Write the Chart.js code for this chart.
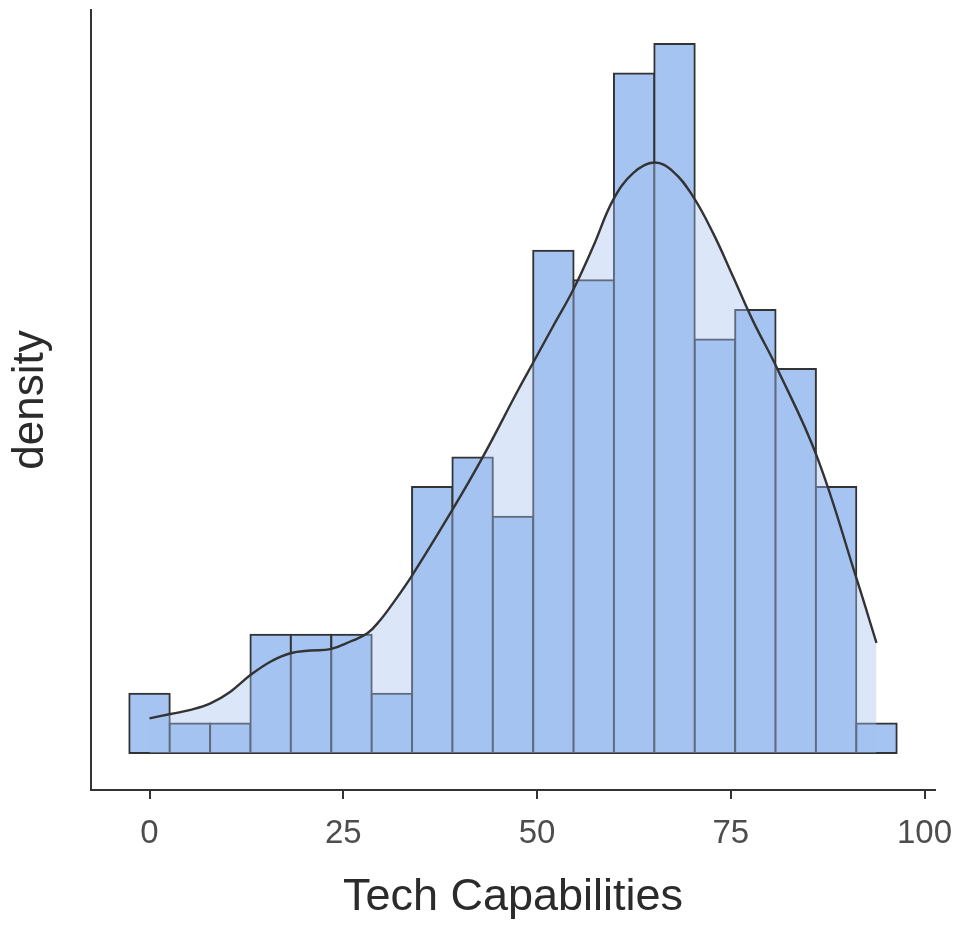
<!DOCTYPE html>
<html>
<head>
<meta charset="utf-8">
<script src="https://cdn.jsdelivr.net/npm/chart.js@4.4.1/dist/chart.umd.min.js"></script>
<style>
  html, body { margin: 0; padding: 0; background: #ffffff; }
  canvas { display: block; }
</style>
</head>
<body>
<canvas id="chart" width="960" height="929"></canvas>
<script>
// Histogram bins (centres) and counts per bin
const binCenters = [0, 5.21, 10.42, 15.63, 20.84, 26.06, 31.27, 36.48, 41.69, 46.9,
                    52.11, 57.32, 62.53, 67.74, 72.96, 78.17, 83.38, 88.59, 93.8];
const binCounts  = [2, 1, 1, 4, 4, 4, 2, 9, 10, 8, 17, 16, 23, 24, 14, 15, 13, 9, 1];
const binWidth = 5.211;

// Kernel density estimate
const densityX = [0, 2.71, 5.29, 7.86, 10.44, 13.02, 15.6, 18.18, 20.76, 23.34,
                  25.92, 28.11, 29.78, 31.07, 33.91, 39.07, 42.94, 47.58, 49.51, 52.09,
                  54.67, 57.25, 59.82, 62.4, 65.11, 67.56, 70.14, 72.72, 75.3, 77.88,
                  80.97, 86.13, 91.28, 93.8];
const densityY = [0.00127, 0.00143, 0.00158, 0.00182, 0.00225, 0.00286, 0.00335, 0.00366, 0.00376, 0.00381,
                  0.00409, 0.00439, 0.00488, 0.00536, 0.00653, 0.00892, 0.01083, 0.01333, 0.01433, 0.01567,
                  0.017, 0.01859, 0.0203, 0.02128, 0.02167, 0.02134, 0.02042, 0.01908, 0.01748, 0.01585,
                  0.01412, 0.01087, 0.00635, 0.00404];

const xTicks = [0, 25, 50, 75, 100];

const total = binCounts.reduce((a, b) => a + b, 0);
const barData = binCenters.map((x, i) => ({ x: x, y: binCounts[i] / (total * binWidth) }));
const curveData = densityX.map((x, i) => ({ x: x, y: densityY[i] }));

const FONT = "'Liberation Sans', Arial, Helvetica, sans-serif";
const AXIS = '#333333';

new Chart(document.getElementById('chart').getContext('2d'), {
  type: 'bar',
  data: {
    datasets: [
      {
        type: 'bar',
        data: barData,
        backgroundColor: '#a5c4f1',
        borderColor: '#333333',
        borderWidth: 2,
        borderSkipped: false,
        inflateAmount: 1,
        barPercentage: 1,
        categoryPercentage: 1,
        order: 2
      },
      {
        type: 'line',
        data: curveData,
        borderColor: '#333333',
        borderWidth: 2.4,
        backgroundColor: 'rgba(165,196,241,0.4)',
        fill: 'origin',
        pointRadius: 0,
        tension: 0.4,
        order: 1
      }
    ]
  },
  options: {
    responsive: false,
    animation: false,
    devicePixelRatio: 1,
    layout: { padding: { top: 10, right: 25, bottom: 0, left: 0 } },
    plugins: { legend: { display: false }, tooltip: { enabled: false } },
    scales: {
      x: {
        type: 'linear',
        min: -7.55,
        max: 101.35,
        offset: false,
        grid: {
          display: true, drawOnChartArea: false, drawTicks: true,
          tickLength: 9, color: AXIS, lineWidth: 2, offset: false
        },
        border: { display: true, color: AXIS, width: 2 },
        ticks: {
          color: '#4d4d4d',
          font: { family: FONT, size: 33, lineHeight: 1.2 },
          padding: 15,
          maxRotation: 0,
          autoSkip: false
        },
        title: {
          display: true,
          text: 'Tech Capabilities',
          color: '#2b2b2b',
          font: { family: FONT, size: 45, lineHeight: 1.2 },
          padding: { top: 0, bottom: 4 }
        },
        afterBuildTicks: (s) => { s.ticks = xTicks.map(v => ({ value: v })); },
        afterFit: (s) => { s.height = 139; s.paddingLeft = 0; s.paddingRight = 0; }
      },
      y: {
        type: 'linear',
        min: -0.00136,
        max: 0.02727,
        grid: { display: false },
        ticks: { display: false },
        border: { display: true, color: AXIS, width: 2 },
        title: {
          display: true,
          text: 'density',
          color: '#2b2b2b',
          font: { family: FONT, size: 44, lineHeight: 1.2 },
          padding: { top: 4, bottom: 0 }
        },
        afterFit: (s) => { s.width = 91; s.paddingTop = 0; s.paddingBottom = 0; }
      }
    }
  }
});
</script>
</body>
</html>
